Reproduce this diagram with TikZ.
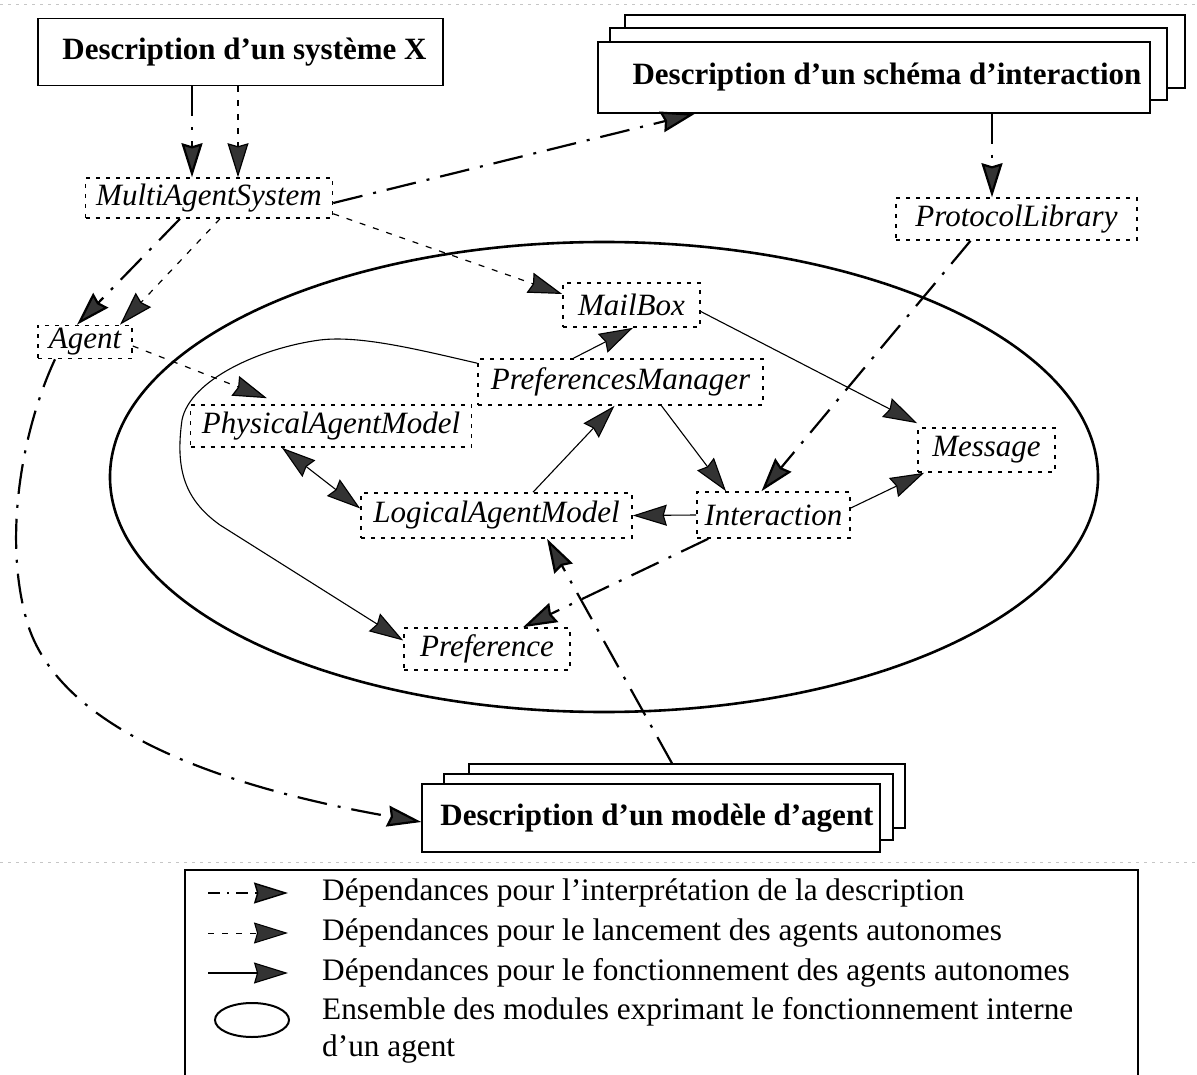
\documentclass[tikz,border=0pt]{standalone}
\usepackage{fontspec}
\setmainfont{Liberation Serif}
\usetikzlibrary{arrows.meta,calc}
\begin{document}
\begin{tikzpicture}[x=1pt,y=-1pt,
  tip/.style={-{Stealth[length=34pt,width=21pt,inset=3pt,fill=black!80]}},
  twotips/.style={{Stealth[length=34pt,width=21pt,inset=3pt,fill=black!80]}-{Stealth[length=34pt,width=21pt,inset=3pt,fill=black!80]}},
  titlebox/.style={draw,line width=1.4pt,fill=white,inner sep=0pt,
    font=\fontsize{31}{37}\selectfont\bfseries},
  backbox/.style={draw,line width=1.3pt,fill=white,inner sep=0pt},
  modbox/.style={draw,line width=1.6pt,dash pattern=on 4pt off 6pt,inner sep=0pt,
    font=\fontsize{31}{36}\selectfont\itshape},
  interp/.style={tip,line width=2.2pt,dash pattern=on 30pt off 11pt on 3pt off 11pt},
  launch/.style={tip,line width=1.2pt,dash pattern=on 6pt off 8pt},
  func/.style={tip,line width=1.1pt},
  legtext/.style={anchor=west,inner sep=0pt,align=left,font=\fontsize{31.3}{37}\selectfont}
]
\useasboundingbox (0,0) rectangle (1197,1075);

% faint border rules of the figure
\draw[gray!45,line width=0.8pt,dash pattern=on 3pt off 5pt] (0,4) -- (1197,4);
\draw[gray!45,line width=0.8pt,dash pattern=on 3pt off 5pt] (0,862) -- (1197,862);

% set of internal modules of an agent
\draw[line width=2.6pt] (604,477) ellipse [x radius=494pt, y radius=235pt];

% description boxes
\node[titlebox,minimum width=405pt,minimum height=67pt] (X) at (240.5,52) {\hspace*{8pt}Description d’un système X};

\node[backbox,minimum width=560pt,minimum height=73pt] (SchB) at (905,51.5) {};
\node[backbox,minimum width=557pt,minimum height=72pt] (SchM) at (888.5,64) {};
\node[titlebox,minimum width=552pt,minimum height=71pt] (Sch) at (874,77.5) {\hspace*{26pt}Description d’un schéma d’interaction};

\node[backbox,minimum width=436pt,minimum height=64pt] (ModB) at (687,796) {};
\node[backbox,minimum width=449pt,minimum height=66pt] (ModM) at (668.5,807) {};
\node[titlebox,minimum width=458pt,minimum height=68pt] (Mod) at (651,818) {\hspace*{12pt}Description d’un modèle d’agent};

% modules
\node[modbox,minimum width=247pt,minimum height=40pt] (MAS) at (209,198) {MultiAgentSystem};
\node[modbox,minimum width=241pt,minimum height=42pt] (PL) at (1016.5,219) {ProtocolLibrary};
\node[modbox,minimum width=94pt,minimum height=33pt] (Agent) at (85,342) {Agent};
\node[modbox,minimum width=281pt,minimum height=42pt] (PAM) at (331,426) {PhysicalAgentModel};
\node[modbox,minimum width=271pt,minimum height=45pt] (LAM) at (496.5,515.5) {LogicalAgentModel};
\node[modbox,minimum width=285pt,minimum height=46pt] (PM) at (620.5,382) {PreferencesManager};
\node[modbox,minimum width=137pt,minimum height=44pt] (MB) at (631.5,305) {MailBox};
\node[modbox,minimum width=137pt,minimum height=44pt] (Msg) at (986.5,450) {Message};
\node[modbox,minimum width=153pt,minimum height=46pt] (Int) at (773.5,515) {Interaction};
\node[modbox,minimum width=166pt,minimum height=42pt] (Pref) at (487,649) {Preference};

% interpretation dependencies
\draw[interp] ([xshift=-48.5pt]X.south) -- ([xshift=-17pt]MAS.north);
\draw[interp] ([yshift=-5pt]MAS.east) -- ([xshift=-179pt]Sch.south);
\draw[interp] ([xshift=118pt]Sch.south) -- ([xshift=-24.5pt]PL.north);
\draw[interp] ([xshift=-29pt]MAS.south) -- ([xshift=-8pt]Agent.north);
\draw[interp] ([xshift=-46pt]PL.south) -- ([xshift=-12pt]Int.north);
\draw[interp] ([xshift=12pt]Int.south west) -- ([xshift=36pt]Pref.north);
\draw[interp] ([xshift=-15pt]ModB.north) -- ([xshift=50.5pt]LAM.south);
\draw[interp] ([xshift=-30pt]Agent.south)
  .. controls (22,430) and (2,540) .. (28,625)
  .. controls (65,740) and (250,792) .. ([yshift=-4pt]Mod.west);

% launching dependencies
\draw[launch] ([xshift=-2.5pt]X.south) -- ([xshift=29pt]MAS.north);
\draw[launch] ([xshift=11pt]MAS.south) -- ([xshift=35pt]Agent.north);
\draw[launch] ([yshift=5pt]MAS.south east) -- ([yshift=11pt]MB.west);
\draw[launch] ([yshift=-4pt]Agent.east) -- ([xshift=-64pt,yshift=6pt]PAM.north);

% functioning dependencies
\draw[twotips,line width=1.1pt] ([xshift=-49pt]PAM.south) -- ([yshift=7pt]LAM.west);
\draw[func] ([xshift=36.5pt]LAM.north) -- ([xshift=-6pt]PM.south);
\draw[func] ([xshift=-47pt]PM.north) -- ([xshift=1.5pt]MB.south);
\draw[func] ([yshift=-6.5pt]MB.east) -- ([yshift=4pt]Msg.north west);
\draw[func] ([xshift=41pt]PM.south) -- ([xshift=-47.5pt]Int.north);
\draw[func] (Int.west) -- (LAM.east);
\draw[func] ([yshift=7pt]Int.east) -- ([xshift=7pt]Msg.south west);
\draw[func] ([yshift=-5pt]PM.north west)
  .. controls (420,350) and (360,335) .. (320,340)
  .. controls (260,348) and (190,380) .. (182,420)
  .. controls (175,470) and (185,500) .. (220,525)
  -- ([yshift=8.5pt]Pref.west);

% legend
\draw[line width=1.3pt] (185,1090) -- (185,870) -- (1138,870) -- (1138,1090);
\coordinate (l1a) at (208,893); \coordinate (l1b) at (288,893);
\coordinate (l2a) at (208,933); \coordinate (l2b) at (288,933);
\coordinate (l3a) at (208,973); \coordinate (l3b) at (288,973);
\draw[interp,line width=1.4pt,dash pattern=on 12pt off 7pt on 2pt off 7pt] (l1a) -- (l1b);
\draw[launch,line width=1pt] (l2a) -- (l2b);
\draw[func] (l3a) -- (l3b);
\draw[line width=2pt] (252,1020) ellipse [x radius=37pt, y radius=17pt];
\node[legtext] (t1) at (322,893) {Dépendances pour l’interprétation de la description};
\node[legtext] (t2) at (322,933) {Dépendances pour le lancement des agents autonomes};
\node[legtext] (t3) at (322,973) {Dépendances pour le fonctionnement des agents autonomes};
\node[legtext] (t4) at (322,1030) {Ensemble des modules exprimant le fonctionnement interne\\d’un agent};
\end{tikzpicture}
\end{document}
